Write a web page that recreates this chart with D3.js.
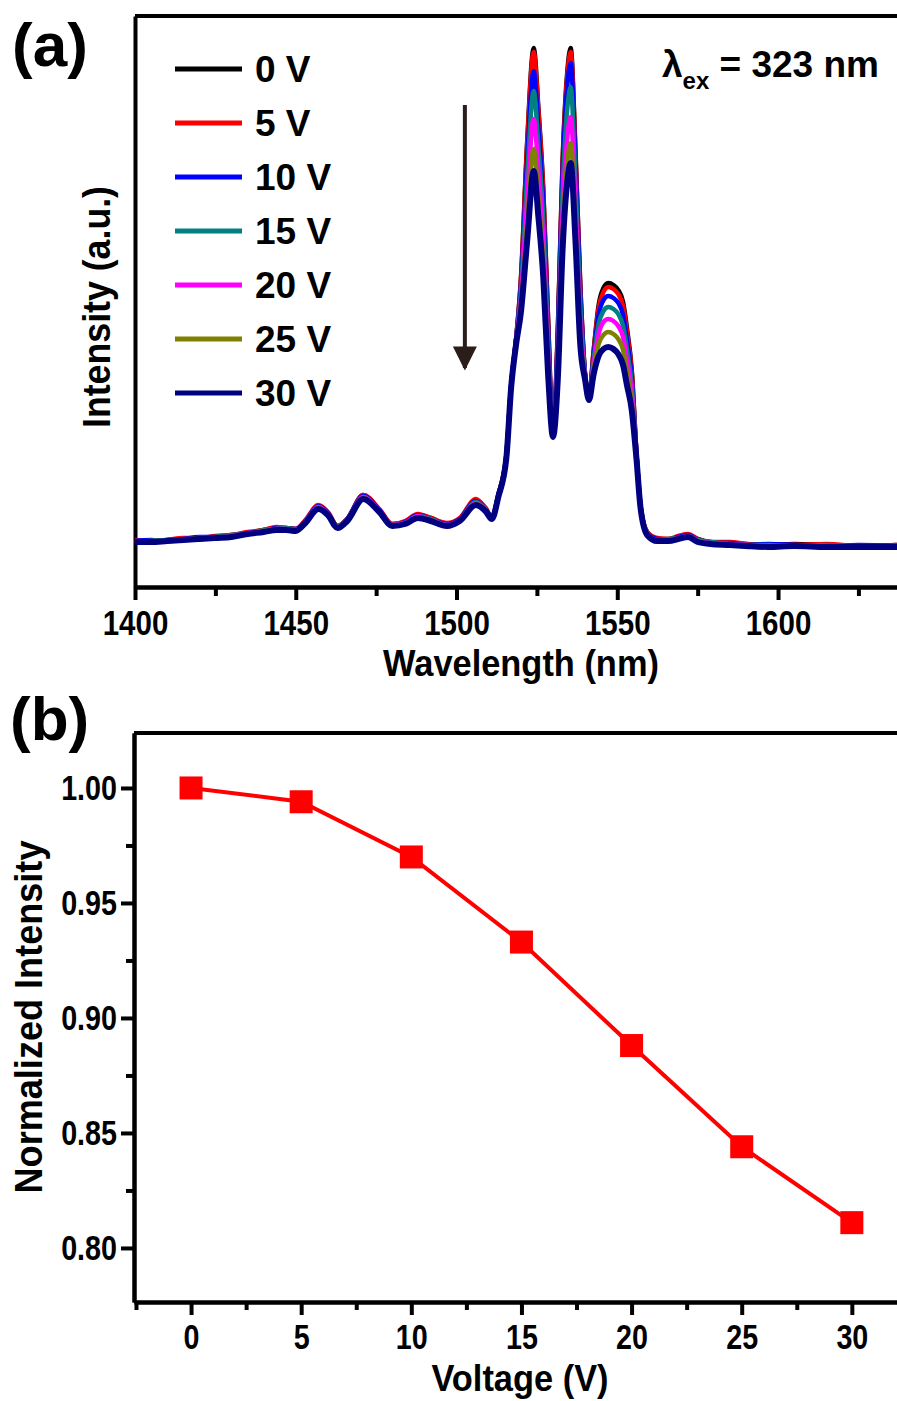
<!DOCTYPE html>
<html>
<head>
<meta charset="utf-8">
<script src="https://cdn.jsdelivr.net/npm/d3@7"></script>
<style>
  body { margin: 0; background: #fff; }
  svg { display: block; }
  text { font-family: "Liberation Sans", Arial, sans-serif; font-weight: bold; fill: #000; }
</style>
</head>
<body>
<div id="chart"></div>
<script>
// ---- panel (a): PL spectra under bias ----
const wavelengths = [1400, 1405, 1410, 1415, 1420, 1425, 1430, 1435, 1440, 1444, 1447, 1450, 1453, 1457, 1460, 1463,
  1466, 1471, 1476, 1480, 1484, 1488, 1492, 1497, 1501, 1506, 1509, 1511, 1513, 1515.5, 1517, 1518.5, 1520, 1522,
  1524, 1525.5, 1527, 1528.5, 1530, 1531.5, 1533, 1534.5, 1535.5, 1537, 1538.5, 1540, 1541.2, 1542.6, 1544.2, 1545.7,
  1547.2, 1548.8, 1550.3, 1551.8, 1553, 1554.5, 1556, 1557.2, 1559.3, 1562.4, 1566, 1569, 1572, 1575, 1579, 1585,
  1590, 1597, 1605, 1615, 1625, 1637];

const labels = ["0 V", "5 V", "10 V", "15 V", "20 V", "25 V", "30 V"];
const colors = ["#000000", "#ff0000", "#0000ff", "#008080", "#ff00ff", "#808000", "#000080"];

const spec0 = [46, 46, 47, 48, 49, 50, 52, 54, 57, 59, 59, 58, 66, 81, 74, 61, 68, 92, 77, 63, 65, 72, 69, 63, 68, 87,
  79, 70, 92, 132, 202, 247, 307, 447, 539, 477, 397, 267, 152, 257, 427, 517, 539, 437, 302, 212, 189, 235, 282, 299,
  304, 302, 297, 285, 259, 217, 132, 82, 55, 48, 48, 50, 52, 48, 45, 44, 43, 42, 43, 42, 41, 42];
const spec5 = [47, 46, 47, 49, 49, 51, 52, 55, 57, 60, 59, 58, 67, 82, 75, 61, 68, 92, 78, 63, 66, 73, 69, 64, 69, 88,
  79, 70, 92, 132, 202, 247, 305, 444, 535, 474, 394, 265, 152, 255, 424, 513, 535, 434, 300, 212, 189, 234, 279, 295,
  300, 298, 293, 281, 255, 215, 132, 82, 55, 49, 48, 51, 53, 48, 45, 45, 43, 42, 42, 43, 41, 42];
const spec10 = [46, 47, 46, 48, 50, 50, 51, 54, 56, 59, 58, 58, 66, 81, 74, 60, 68, 91, 77, 62, 65, 72, 68, 63, 68, 86,
  78, 70, 92, 131, 202, 247, 300, 428, 516, 457, 381, 257, 152, 251, 416, 503, 524, 425, 294, 212, 189, 230, 272, 287,
  291, 289, 284, 272, 247, 209, 131, 82, 54, 48, 47, 50, 52, 47, 44, 44, 42, 43, 42, 41, 42, 41];
const spec15 = [45, 46, 47, 47, 49, 50, 52, 53, 57, 58, 59, 57, 65, 80, 73, 61, 67, 90, 76, 62, 64, 71, 68, 62, 67, 85,
  78, 69, 91, 131, 201, 246, 294, 412, 496, 439, 366, 248, 151, 240, 397, 480, 500, 406, 282, 211, 188, 226, 263, 276,
  280, 278, 273, 261, 238, 202, 130, 81, 54, 47, 48, 49, 51, 47, 45, 43, 42, 42, 41, 42, 41, 41];
const spec20 = [46, 45, 46, 48, 48, 49, 51, 54, 56, 58, 58, 57, 65, 80, 73, 60, 67, 90, 76, 62, 64, 71, 67, 62, 67, 84,
  77, 69, 91, 130, 201, 246, 287, 389, 468, 415, 346, 235, 151, 228, 374, 451, 470, 382, 266, 210, 188, 222, 253, 265,
  268, 266, 261, 250, 227, 195, 129, 81, 53, 47, 47, 49, 51, 46, 44, 43, 42, 41, 42, 41, 40, 41];
const spec25 = [45, 46, 46, 47, 49, 49, 51, 53, 56, 58, 57, 57, 64, 79, 72, 60, 66, 89, 75, 61, 63, 70, 67, 61, 66, 83,
  77, 68, 90, 130, 200, 243, 280, 365, 438, 388, 325, 222, 150, 216, 354, 426, 444, 362, 253, 209, 187, 217, 243, 252,
  255, 253, 248, 237, 215, 186, 128, 80, 53, 46, 47, 48, 50, 46, 43, 42, 41, 41, 41, 40, 40, 40];
const spec30 = [45, 45, 46, 47, 48, 49, 50, 53, 55, 57, 57, 56, 64, 78, 72, 59, 66, 88, 75, 61, 63, 69, 66, 61, 66, 82,
  76, 68, 90, 129, 200, 242, 274, 347, 416, 369, 309, 212, 150, 208, 338, 407, 424, 346, 242, 207, 187, 212, 231, 238,
  240, 238, 233, 222, 202, 177, 127, 80, 52, 46, 46, 48, 50, 45, 43, 42, 41, 40, 41, 40, 40, 40];

const spectra = [spec0, spec5, spec10, spec15, spec20, spec25, spec30];

const wlMajorTicks = [1400, 1450, 1500, 1550, 1600];
const wlMinorTicks = [1425, 1475, 1525, 1575, 1625];

// ---- panel (b): normalized intensity vs voltage ----
const voltageSteps = [0, 5, 10, 15, 20, 25, 30];
const normIntensity = [1.000, 0.994, 0.970, 0.933, 0.888, 0.844, 0.811];

const vMajorTicks = [0, 5, 10, 15, 20, 25, 30];
const vMinorTicks = [-2.5, 2.5, 7.5, 12.5, 17.5, 22.5, 27.5];
const nMajorTicks = [0.80, 0.85, 0.90, 0.95, 1.00];
const nMinorTicks = [0.825, 0.875, 0.925, 0.975];

const width = 897, height = 1401;
const squeeze = 0.82; // tick labels are a condensed face

const svg = d3.select("#chart")
    .append("svg")
    .attr("width", width)
    .attr("height", height)
    .attr("viewBox", [0, 0, width, height]);

function styleAxis(g, fontSize) {
    g.attr("font-family", "Liberation Sans, Arial, sans-serif")
        .attr("font-size", fontSize)
        .attr("font-weight", "bold");
    g.select(".domain").attr("stroke", "#000").attr("stroke-width", 4);
    g.selectAll(".tick line").attr("stroke", "#000").attr("stroke-width", 4);
    g.selectAll(".tick text").attr("fill", "#000").attr("transform", `scale(${squeeze},1)`);
}

// text that is a little condensed, like the original export
function label(x, y, str, size, sx, rotate) {
    return svg.append("text")
        .attr("transform", `translate(${x},${y})` + (rotate ? " rotate(-90)" : "") + ` scale(${sx},1)`)
        .attr("text-anchor", "middle")
        .attr("font-size", size)
        .text(str);
}

// ================= panel (a) =================
let a = { top: 16, bottom: 587, left: 135, right: 897 };

let xA = d3.scaleLinear()
    .domain([1400, 1637])
    .range([a.left, a.right]);

let yA = d3.scaleLinear()
    .domain([0, 571])
    .range([a.bottom, a.top]);

// frame: top and left
svg.append("line")
    .attr("x1", a.left).attr("x2", a.right)
    .attr("y1", a.top).attr("y2", a.top)
    .attr("stroke", "#000").attr("stroke-width", 4);

svg.append("g")
    .attr("transform", `translate(${a.left},0)`)
    .call(d3.axisLeft(yA).tickValues([]).tickSizeOuter(0))
    .call(g => styleAxis(g, 36));

svg.append("g")
    .attr("transform", `translate(0,${a.bottom})`)
    .call(d3.axisBottom(xA).tickValues(wlMinorTicks).tickSize(9).tickFormat("").tickSizeOuter(0))
    .call(g => styleAxis(g, 36));

svg.append("g")
    .attr("transform", `translate(0,${a.bottom})`)
    .call(d3.axisBottom(xA).tickValues(wlMajorTicks).tickSize(13).tickFormat(d3.format("d")).tickSizeOuter(0))
    .call(g => styleAxis(g, 36))
    .call(g => g.selectAll(".tick text").attr("y", 22));

const line = d3.line()
    .x((d, i) => xA(wavelengths[i]))
    .y(d => yA(d))
    .curve(d3.curveMonotoneX);

svg.append("g")
    .selectAll("path")
    .data(spectra)
    .join("path")
    .attr("d", d => line(d))
    .attr("fill", "none")
    .attr("stroke", (d, i) => colors[i])
    .attr("stroke-width", (d, i) => i === 6 ? 6 : 4.5)
    .attr("stroke-linejoin", "round");

// legend
const legend = svg.append("g").attr("transform", "translate(175,69)");
legend.selectAll("line")
    .data(labels)
    .join("line")
    .attr("x1", 0).attr("x2", 67)
    .attr("y1", (d, i) => i * 54).attr("y2", (d, i) => i * 54)
    .attr("stroke", (d, i) => colors[i])
    .attr("stroke-width", 5);
legend.selectAll("text")
    .data(labels)
    .join("text")
    .attr("x", 80)
    .attr("y", (d, i) => i * 54 + 13)
    .attr("font-size", 37)
    .text(d => d);

// arrow showing decrease
const arrowX = xA(1502.6);
svg.append("defs").append("marker")
    .attr("id", "head")
    .attr("viewBox", "0 0 10 10")
    .attr("refX", 9).attr("refY", 5)
    .attr("markerWidth", 7).attr("markerHeight", 6)
    .attr("markerUnits", "strokeWidth")
    .attr("orient", "auto")
    .append("path")
    .attr("d", "M0,0 L10,5 L0,10 Z")
    .attr("fill", "#2b1d1a");
svg.append("line")
    .attr("x1", arrowX).attr("x2", arrowX)
    .attr("y1", yA(482)).attr("y2", yA(219))
    .attr("stroke", "#2b1d1a")
    .attr("stroke-width", 4)
    .attr("marker-end", "url(#head)");

// excitation label
const lam = svg.append("text").attr("x", 662).attr("y", 77).attr("font-size", 37);
lam.append("tspan").text("λ");
lam.append("tspan").attr("font-size", 24).attr("dy", 12).text("ex");
lam.append("tspan").attr("dy", -12).text(" = 323 nm");

svg.append("text")
    .attr("x", 12).attr("y", 66)
    .attr("font-size", 62)
    .text("(a)");

label(110, 307, "Intensity (a.u.)", 38, 0.94, true);
label(521, 676, "Wavelength (nm)", 37, 0.93, false);

// ================= panel (b) =================
let b = { top: 733, bottom: 1302, left: 134, right: 897 };

let xB = d3.scaleLinear()
    .domain([-2.59, 32.05])
    .range([b.left, b.right]);

let yB = d3.scaleLinear()
    .domain([0.7765, 1.0239])
    .range([b.bottom, b.top]);

svg.append("line")
    .attr("x1", b.left).attr("x2", b.right)
    .attr("y1", b.top).attr("y2", b.top)
    .attr("stroke", "#000").attr("stroke-width", 4);

svg.append("g")
    .attr("transform", `translate(${b.left},0)`)
    .call(d3.axisLeft(yB).tickValues(nMinorTicks).tickSize(8).tickFormat("").tickSizeOuter(0))
    .call(g => styleAxis(g, 35));

svg.append("g")
    .attr("transform", `translate(${b.left},0)`)
    .call(d3.axisLeft(yB).tickValues(nMajorTicks).tickSize(13).tickFormat(d3.format(".2f")).tickSizeOuter(0))
    .call(g => styleAxis(g, 35))
    .call(g => g.selectAll(".tick text").attr("x", -17 / squeeze));

svg.append("g")
    .attr("transform", `translate(0,${b.bottom})`)
    .call(d3.axisBottom(xB).tickValues(vMinorTicks).tickSize(8).tickFormat("").tickSizeOuter(0))
    .call(g => styleAxis(g, 35));

svg.append("g")
    .attr("transform", `translate(0,${b.bottom})`)
    .call(d3.axisBottom(xB).tickValues(vMajorTicks).tickSize(13).tickFormat(d3.format("d")).tickSizeOuter(0))
    .call(g => styleAxis(g, 35))
    .call(g => g.selectAll(".tick text").attr("y", 22));

svg.append("path")
    .datum(normIntensity)
    .attr("d", d3.line().x((d, i) => xB(voltageSteps[i])).y(d => yB(d)))
    .attr("fill", "none")
    .attr("stroke", "#ff0000")
    .attr("stroke-width", 4);

svg.append("g")
    .selectAll("rect")
    .data(normIntensity)
    .join("rect")
    .attr("x", (d, i) => xB(voltageSteps[i]) - 11.5)
    .attr("y", d => yB(d) - 11.5)
    .attr("width", 23)
    .attr("height", 23)
    .attr("fill", "#ff0000");

svg.append("text")
    .attr("x", 10).attr("y", 740)
    .attr("font-size", 62)
    .text("(b)");

label(42, 1017, "Normalized Intensity", 38, 0.95, true);
label(520, 1391, "Voltage (V)", 37, 0.93, false);
</script>
</body>
</html>
